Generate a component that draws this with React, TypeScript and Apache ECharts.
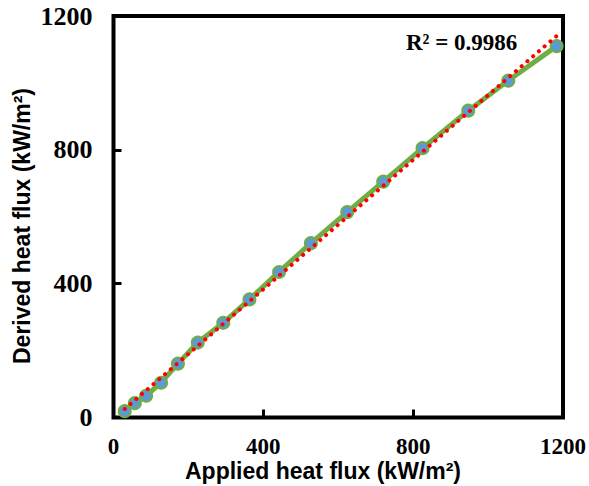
import React, { useEffect, useRef } from "react";
import * as echarts from "echarts";

// Applied vs. derived heat flux, kW/m²
const appliedFlux = [30, 57, 87, 127, 172, 225, 293, 363, 442, 527, 624, 720, 825, 947, 1054, 1183];
const derivedFlux = [19, 43, 65, 104, 161, 224, 283, 353, 435, 521, 614, 705, 805, 917, 1007, 1110];

const axisTicks = [0, 400, 800, 1200];
const rSquaredText = "R² = 0.9986";
const xTitle = "Applied heat flux (kW/m²)";
const yTitle = "Derived heat flux (kW/m²)";

// least-squares linear trendline over the measured points
function linearFit(xs: number[], ys: number[]) {
  const n = xs.length;
  const mx = xs.reduce((a, b) => a + b, 0) / n;
  const my = ys.reduce((a, b) => a + b, 0) / n;
  let sxy = 0;
  let sxx = 0;
  for (let i = 0; i < n; i++) {
    sxy += (xs[i] - mx) * (ys[i] - my);
    sxx += (xs[i] - mx) * (xs[i] - mx);
  }
  const slope = sxy / sxx;
  return { slope, intercept: my - slope * mx };
}

export default function App() {
  const ref = useRef<HTMLDivElement>(null);

  useEffect(() => {
    if (!ref.current) return;
    const chart = echarts.init(ref.current, null, { renderer: "svg" });

    const points = appliedFlux.map((x, i) => [x, derivedFlux[i]]);
    const { slope, intercept } = linearFit(appliedFlux, derivedFlux);
    const xMin = Math.min(...appliedFlux);
    const xMax = Math.max(...appliedFlux);
    const trend = [
      [xMin, intercept + slope * xMin],
      [xMax, intercept + slope * xMax],
    ];

    const serifLabel = {
      fontFamily: "'Liberation Serif', 'Times New Roman', serif",
      fontWeight: "bold" as const,
      color: "#000",
      formatter: (v: number) => String(v),
      showMinLabel: true,
      showMaxLabel: true,
    };

    chart.setOption({
      animation: false,
      backgroundColor: "#fff",
      grid: {
        left: 113.5,
        right: 18.5,
        top: 16,
        bottom: 68.5,
        show: true,
        borderColor: "#000",
        borderWidth: 4,
      },
      xAxis: {
        type: "value",
        min: axisTicks[0],
        max: axisTicks[axisTicks.length - 1],
        interval: 400,
        axisLine: { show: false },
        axisTick: { show: true, inside: true, length: 8, lineStyle: { color: "#000", width: 3 } },
        splitLine: { show: false },
        axisLabel: { ...serifLabel, fontSize: 23, margin: 17 },
      },
      yAxis: {
        type: "value",
        min: axisTicks[0],
        max: axisTicks[axisTicks.length - 1],
        interval: 400,
        axisLine: { show: false },
        axisTick: { show: true, inside: true, length: 8, lineStyle: { color: "#000", width: 3 } },
        splitLine: { show: false },
        axisLabel: { ...serifLabel, fontSize: 26, margin: 21 },
      },
      graphic: [
        {
          type: "text",
          x: 323,
          y: 471,
          style: {
            text: xTitle,
            fontFamily: "'Liberation Sans', Arial, sans-serif",
            fontWeight: "bold",
            fontSize: 23,
            fill: "#000",
            align: "center",
            verticalAlign: "middle",
          },
        },
        {
          type: "text",
          x: 22,
          y: 226,
          rotation: Math.PI / 2,
          style: {
            text: yTitle,
            fontFamily: "'Liberation Sans', Arial, sans-serif",
            fontWeight: "bold",
            fontSize: 23,
            fill: "#000",
            align: "center",
            verticalAlign: "middle",
          },
        },
        {
          type: "text",
          x: 406,
          y: 42,
          style: {
            text: rSquaredText,
            fontFamily: "'Liberation Serif', 'Times New Roman', serif",
            fontWeight: "bold",
            fontSize: 23,
            fill: "#000",
            align: "left",
            verticalAlign: "middle",
          },
        },
      ],
      series: [
        {
          type: "line",
          data: points,
          z: 2,
          symbol: "circle",
          symbolSize: 12,
          lineStyle: { color: "#70AD47", width: 5 },
          itemStyle: { color: "#5B9BD5", borderColor: "#70AD47", borderWidth: 2 },
        },
        {
          type: "line",
          data: trend,
          z: 3,
          symbol: "none",
          lineStyle: { color: "#FF0000", width: 4, type: [0.1, 7.5], cap: "round" },
        },
      ],
    });

    return () => chart.dispose();
  }, []);

  return (
    <div
      ref={ref}
      style={{ position: "fixed", left: 0, top: 0, width: 589, height: 486 }}
    />
  );
}
